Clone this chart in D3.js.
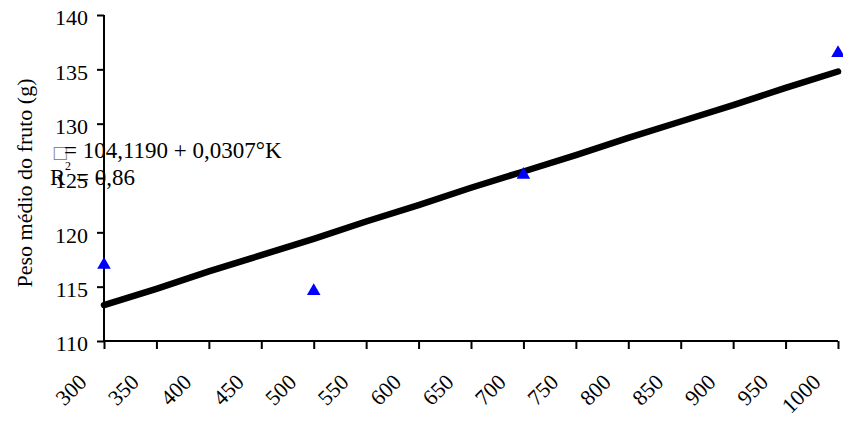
<!DOCTYPE html>
<html>
<head>
<meta charset="utf-8">
<script src="https://cdn.jsdelivr.net/npm/d3@7"></script>
<style>
  html, body { margin: 0; padding: 0; background: #fff; }
  svg { display: block; }
  text { font-family: "Liberation Serif", "Times New Roman", serif; fill: #000; }
</style>
</head>
<body>
<svg id="chart" width="843" height="423"></svg>
<script>
// Potassium doses (categories on the x axis)
const doses = [300, 350, 400, 450, 500, 550, 600, 650, 700, 750, 800, 850, 900, 950, 1000];
// Fitted regression values at each dose
const fitted = [113.3, 114.8, 116.4, 117.9, 119.4, 121.0, 122.5, 124.1, 125.6, 127.1, 128.7, 130.2, 131.7, 133.3, 134.8];
// Observed mean fruit weight
const obsDoses = [300, 500, 700, 1000];
const observed = [117.0, 114.6, 125.3, 136.5];
const yTicks = [110, 115, 120, 125, 130, 135, 140];

const FS = 22;
const svg = d3.select("#chart");
const margin = { left: 104, right: 5, top: 15, bottom: 82 };
const W = 843, H = 423;

const x = d3.scalePoint().domain(doses).range([margin.left, W - margin.right]);
const y = d3.scaleLinear().domain([110, 140]).range([H - margin.bottom, margin.top]);

// Axes
const yAxis = svg.append("g")
  .attr("transform", `translate(${margin.left},0)`)
  .call(d3.axisLeft(y).tickValues(yTicks).tickSize(7).tickPadding(9));
const xAxis = svg.append("g")
  .attr("transform", `translate(0,${y(110)})`)
  .call(d3.axisBottom(x).tickSize(8).tickPadding(4));

[yAxis, xAxis].forEach(g => {
  g.select(".domain").attr("stroke", "#000").attr("stroke-width", 2);
  g.selectAll(".tick line").attr("stroke", "#000").attr("stroke-width", 2);
  g.selectAll("text").attr("font-family", "Liberation Serif, serif").attr("font-size", FS).attr("fill", "#000");
});
yAxis.select(".domain").attr("d", `M0,${y(110)}V${y(140)}`);
yAxis.selectAll(".tick text").attr("dy", "0.45em");
xAxis.select(".domain").attr("d", `M${x(300)},0H${x(1000)}`);

xAxis.selectAll(".tick text")
  .attr("text-anchor", "end")
  .attr("dy", "0.35em")
  .attr("y", 0).attr("x", 0)
  .attr("transform", "translate(-22,37) rotate(-45)");

// Regression line
svg.append("path")
  .datum(doses.map((d, i) => [d, fitted[i]]))
  .attr("fill", "none")
  .attr("stroke", "#000")
  .attr("stroke-width", 6.5)
  .attr("stroke-linecap", "round")
  .attr("stroke-linejoin", "round")
  .attr("d", d3.line().x(d => x(d[0])).y(d => y(d[1])));

// Observed points as triangles
svg.append("g").selectAll("path")
  .data(obsDoses.map((d, i) => [d, observed[i]]))
  .join("path")
  .attr("transform", d => `translate(${x(d[0])},${y(d[1])})`)
  .attr("d", d3.symbol().type(d3.symbolTriangle).size(80))
  .attr("fill", "#0000ff");

// Y axis title
svg.append("text")
  .attr("transform", `translate(32,183) rotate(-90)`)
  .attr("text-anchor", "middle")
  .attr("font-size", FS)
  .text("Peso médio do fruto (g)");

// Regression equation
const eq = svg.append("g").attr("font-size", 23);
const line1 = eq.append("text").attr("x", 52).attr("y", 158);
line1.append("tspan").attr("fill", "#888").attr("font-family", "DejaVu Sans, sans-serif").attr("font-size", 17).text("\u25A1");
line1.append("tspan").attr("x", 64).text("= 104,1190 + 0,0307°K");
const r2 = eq.append("text").attr("x", 50).attr("y", 185);
r2.append("tspan").text("R");
r2.append("tspan").attr("x", 65).attr("font-size", 12).attr("dy", -15).text("2");
r2.append("tspan").attr("x", 76).attr("dy", 15).text("= 0,86");
</script>
</body>
</html>
